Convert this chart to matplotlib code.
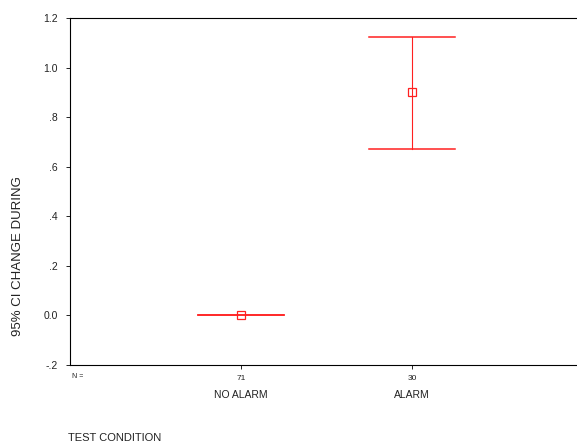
import matplotlib
matplotlib.use("Agg")
import matplotlib.pyplot as plt

categories = ["NO ALARM", "ALARM"]
counts = [71, 30]
means = [0.0, 0.90]
ci_low = [0.0, 0.672]
ci_high = [0.0, 1.122]

yticks = [-0.2, 0.0, 0.2, 0.4, 0.6, 0.8, 1.0, 1.2]
ytick_labels = ["-.2", "0.0", ".2", ".4", ".6", ".8", "1.0", "1.2"]

RED = "#ff2020"
TXT = "#222222"
plt.rcParams["font.family"] = ["Liberation Sans", "DejaVu Sans"]
plt.rcParams["axes.unicode_minus"] = False

fig = plt.figure(figsize=(5.77, 4.47), dpi=100)
ax = fig.add_axes([70 / 577, 1 - 365 / 447, 507 / 577, 347 / 447])

xs = [1, 2]
cap = 0.25
for x, m, lo, hi in zip(xs, means, ci_low, ci_high):
    ax.plot([x, x], [lo, hi], color=RED, lw=0.8)
    ax.plot([x - cap, x + cap], [lo, lo], color=RED, lw=1.1)
    ax.plot([x - cap, x + cap], [hi, hi], color=RED, lw=1.1)
    ax.plot([x], [m], marker="s", ms=6, mfc="none", mec=RED, mew=0.9)

ax.set_xlim(0, 2.965)
ax.set_ylim(-0.2, 1.2)
ax.set_yticks(yticks)
ax.set_yticklabels(ytick_labels, fontsize=7.5, color=TXT)
ax.set_xticks(xs)
ax.set_xticklabels([str(c) for c in counts], fontsize=6, color=TXT)
ax.tick_params(axis="y", length=3, width=0.6, pad=6)
ax.tick_params(axis="x", length=3, width=0.6, pad=4)
ax.spines["right"].set_visible(False)
for s in ["left", "bottom", "top"]:
    ax.spines[s].set_linewidth(0.8)

for x, c in zip(xs, categories):
    ax.annotate(c, (x, 0), xycoords=("data", "axes fraction"), xytext=(0, -21.5),
                textcoords="offset points", ha="center", va="center",
                fontsize=7.5, color=TXT)
fig.text(72 / 577, 1 - 376 / 447, "N =", fontsize=5, va="center", color=TXT)
fig.text(68 / 577, 1 - 438 / 447, "TEST CONDITION", fontsize=8, va="center", color=TXT)
fig.text(18 / 577, 1 - 256 / 447, "95% CI CHANGE DURING", fontsize=9.5,
         rotation=90, ha="center", va="center", color=TXT)

fig.savefig("out.png", dpi=100)
